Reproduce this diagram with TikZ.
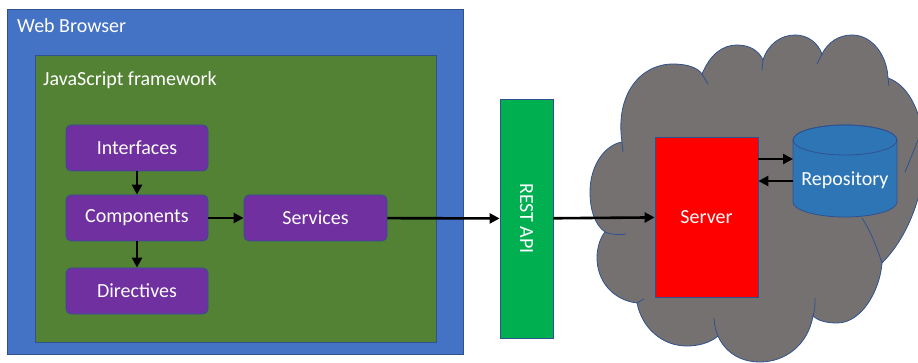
\documentclass[tikz,border=0pt]{standalone}
\usepackage{fontspec}
\setmainfont{Carlito}
\usetikzlibrary{arrows.meta}
\definecolor{browserblue}{HTML}{4472C4}
\definecolor{frameworkgreen}{HTML}{548235}
\definecolor{partpurple}{HTML}{7030A0}
\definecolor{restgreen}{HTML}{00B050}
\definecolor{repoblue}{HTML}{2E75B6}
\definecolor{cloudgray}{HTML}{767171}
\definecolor{edgeblue}{HTML}{2F528F}
\tikzstyle{every node}=[font=\fontsize{20}{24}\selectfont, text=white, inner sep=0pt]
\tikzstyle{frame}=[draw=edgeblue, line width=0.8pt]
\tikzstyle{part}=[frame, fill=partpurple, rounded corners=5pt, minimum width=142pt, minimum height=46pt]
\tikzstyle{link}=[line width=2.6pt, -{Triangle[length=10pt,width=10pt]}]
\tikzstyle{cloudline}=[draw=edgeblue, line width=0.8pt]

\begin{document}
\begin{tikzpicture}[x=1pt,y=-1pt]
      \useasboundingbox (0,0) rectangle (918,363);
      \begin{scope}
        \clip (0,0) rectangle (918,363);
        \path[cloudline, fill=cloudgray] (622,142)
          .. controls (615,95) and (640,64) .. (673,64)
          .. controls (688,64) and (698,68) .. (702,74)
          .. controls (710,55) and (722,45) .. (737,45)
          .. controls (750,45) and (759,51) .. (763,60)
          .. controls (768,44) and (781,35) .. (795,35)
          .. controls (808,35) and (818,43) .. (822,54)
          .. controls (828,42) and (839,35) .. (852,35)
          .. controls (872,35) and (887,55) .. (888,78)
          .. controls (908,85) and (920,110) .. (924,140)
          .. controls (928,175) and (915,230) .. (882,263)
          .. controls (880,290) and (862,323) .. (837,323)
          .. controls (825,323) and (817,320) .. (813,316)
          .. controls (808,345) and (785,362) .. (760,362)
          .. controls (740,362) and (725,352) .. (718,336)
          .. controls (710,343) and (698,346) .. (687,346)
          .. controls (662,346) and (642,328) .. (637,303)
          .. controls (612,300) and (597,280) .. (597,258)
          .. controls (597,248) and (600,238) .. (605,232)
          .. controls (595,225) and (590,210) .. (590,192)
          .. controls (590,165) and (605,145) .. (622,142) -- cycle;
        \draw[cloudline] (702,74) -- (708,84);
        \draw[cloudline] (763,60) -- (762,70);
        \draw[cloudline] (822,54) -- (817,64);
        \draw[cloudline] (888,78) -- (889,86);
        \draw[cloudline] (905,172) .. controls (910,160) and (914,150) .. (918,140);
        \draw[cloudline] (882,263) .. controls (876,245) and (870,230) .. (862,218);
        \draw[cloudline] (813,316) .. controls (815,308) .. (815,298);
        \draw[cloudline] (718,336) .. controls (715,328) .. (714,318);
        \draw[cloudline] (637,303) -- (644,299);
        \draw[cloudline] (605,232) .. controls (612,235) and (620,235) .. (626,234);
        \draw[cloudline] (622,142) -- (623,152);
      \end{scope}
      \node[frame, fill=browserblue, minimum width=456pt, minimum height=345pt] (browser) at (235,181.5) {};
      \node[anchor=base west] (browserlabel) at (17,33) {Web Browser};
      \node[frame, fill=frameworkgreen, minimum width=401pt, minimum height=287pt] (framework) at (235.5,198.5) {};
      \node[anchor=base west] (frameworklabel) at (43,86) {JavaScript framework};
      \node[part] (interfaces) at (137,148) {Interfaces};
      \node[part] (components) at (137,218) {Components};
      \node[part] (directives) at (137,291) {Directives};
      \node[part, minimum width=143pt] (services) at (315.5,218) {Services};
      \node[frame, fill=restgreen, minimum width=53pt, minimum height=239pt] (restapi) at (526.5,218.5) {};
      \node[rotate=-90] (restlabel) at (restapi) {REST API};
      \node[frame, fill=red, minimum width=103pt, minimum height=160pt] (server) at (706.5,217) {};
      \node (serverlabel) at (706.5,217) {Server};
      \path[frame, fill=repoblue] (793,140) -- (793,202)
          arc[start angle=180, end angle=360, x radius=52pt, y radius=15pt] -- (897,140)
          arc[start angle=0, end angle=180, x radius=52pt, y radius=15pt] -- cycle;
      \draw[frame] (845,140) ellipse[x radius=52pt, y radius=15pt];
      \node (repository) at (845,180) {Repository};
      \coordinate (repoin) at (793,159);
      \coordinate (repoout) at (793,181);
      \draw[link] (interfaces) -- (components);
      \draw[link] (components) -- (directives);
      \draw[link] (components) -- (services);
      \draw[link] (services) -- (restapi);
      \draw[link] (restapi) -- (server);
      \draw[link] (server.east|-repoin) -- (repoin);
      \draw[link] (repoout) -- (server.east|-repoout);
\end{tikzpicture}
\end{document}
